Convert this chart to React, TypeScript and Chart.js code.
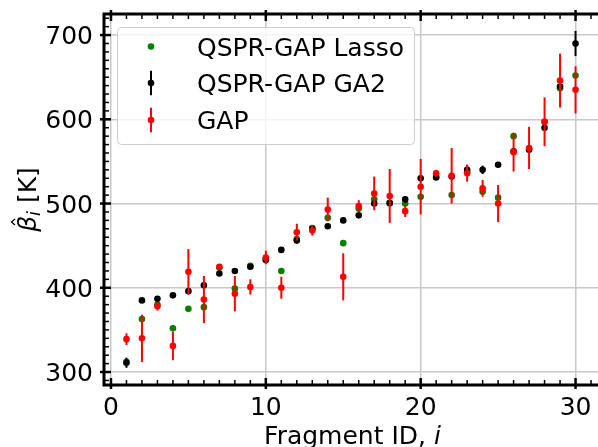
import React, { useEffect, useRef } from 'react';
import { Chart, registerables } from 'chart.js';

Chart.register(...registerables);

const fragmentIds = [1, 2, 3, 4, 5, 6, 7, 8, 9, 10, 11, 12, 13, 14, 15, 16, 17, 18, 19, 20, 21, 22, 23, 24, 25, 26, 27, 28, 29, 30];
const lassoValues = [312, 363, 380, 352, 375, 377, 424, 399, 426, 434, 420, 458, 471, 483, 453, 494, 505, 500, 500, 508, 532, 510, 537, 514, 507, 580, 565, 597, 637, 652];
const ga2Values = [311, 385, 387, 391, 396, 403, 417, 420, 425, 433, 445, 456, 470, 473, 480, 486, 500, 501, 505, 530, 531, 532, 540, 540, 546, 562, 564, 590, 639, 690];
const ga2Errors = [6, 2, 2, 2, 2, 2, 2, 2, 2, 2, 2, 2, 2, 2, 2, 2, 3, 2, 4, 2, 2, 2, 6, 5, 3, 2, 2, 2, 2, 15];
const gapValues = [339, 340, 378, 331, 419, 386, 425, 393, 401, 436, 400, 466, 468, 493, 413, 497, 512, 509, 491, 520, 536, 533, 536, 518, 500, 561, 566, 597, 646, 635];
const gapErrors = [7, 28, 5, 17, 27, 28, 2, 21, 9, 8, 13, 10, 6, 14, 28, 7, 20, 32, 7, 33, 4, 33, 10, 10, 22, 23, 25, 29, 32, 28];
const xTickValues = [0, 10, 20, 30];
const yTickValues = [300, 400, 500, 600, 700];
const seriesLabels = ['QSPR-GAP Lasso', 'QSPR-GAP GA2', 'GAP'];
const seriesColors = ['#008000', '#000000', '#ff0000'];

const X_MIN = -0.45;
const X_MAX = 31.58;
const Y_MIN = 284.6;
const Y_MAX = 725;
const X_MINOR_STEP = 1;
const Y_MINOR_STEP = 10;
const FONT = '"DejaVu Sans", sans-serif';
const CANVAS_W = 604;
const CANVAS_H = 447;

const errorBarPlugin = {
  id: 'errorBars',
  beforeDatasetDraw(chart: any, args: any) {
    const ds: any = chart.data.datasets[args.index];
    if (!ds.errors) return;
    const { ctx, scales } = chart;
    const xs = scales.x;
    const ys = scales.y;
    ctx.save();
    ctx.strokeStyle = ds.backgroundColor;
    ctx.lineWidth = 2;
    ds.data.forEach((p: any, i: number) => {
      const e = ds.errors[i];
      const px = xs.getPixelForValue(p.x);
      ctx.beginPath();
      ctx.moveTo(px, ys.getPixelForValue(p.y - e));
      ctx.lineTo(px, ys.getPixelForValue(p.y + e));
      ctx.stroke();
    });
    ctx.restore();
  },
};

const decorPlugin = {
  id: 'decor',
  afterDraw(chart: any) {
    const { ctx, chartArea, scales } = chart;
    const xs = scales.x;
    const ys = scales.y;
    const { left, right, top, bottom } = chartArea;

    // Legend
    ctx.save();
    ctx.beginPath();
    (ctx as any).roundRect(117.5, 27.5, 297, 117, 4);
    ctx.fillStyle = 'rgba(255,255,255,0.8)';
    ctx.fill();
    ctx.strokeStyle = '#cccccc';
    ctx.lineWidth = 1;
    ctx.stroke();
    const rows = [46.5, 83, 120];
    const mx = 151;
    rows.forEach((ry, k) => {
      ctx.fillStyle = seriesColors[k];
      ctx.strokeStyle = seriesColors[k];
      if (k > 0) {
        ctx.lineWidth = 2;
        ctx.beginPath();
        ctx.moveTo(mx, ry - 12.3);
        ctx.lineTo(mx, ry + 12.3);
        ctx.stroke();
      }
      ctx.beginPath();
      ctx.arc(mx, ry, 3.3, 0, Math.PI * 2);
      ctx.fill();
      ctx.fillStyle = '#000';
      ctx.font = `25px ${FONT}`;
      ctx.textAlign = 'left';
      ctx.textBaseline = 'alphabetic';
      ctx.fillText(seriesLabels[k], 197, ry + 9);
    });
    ctx.restore();

    // Spines (top, left, bottom; the right one lies beyond the page)
    ctx.save();
    ctx.strokeStyle = '#000';
    ctx.lineWidth = 3;
    ctx.lineCap = 'square';
    ctx.beginPath();
    ctx.moveTo(right + 4, top);
    ctx.lineTo(left, top);
    ctx.lineTo(left, bottom);
    ctx.lineTo(right + 4, bottom);
    ctx.stroke();
    ctx.lineCap = 'butt';

    // Minor ticks
    ctx.lineWidth = 1.5;
    for (let v = Math.ceil(X_MIN); v <= X_MAX; v += X_MINOR_STEP) {
      if (v % 10 === 0) continue;
      const px = xs.getPixelForValue(v);
      ctx.beginPath();
      ctx.moveTo(px, bottom);
      ctx.lineTo(px, bottom - 5);
      ctx.moveTo(px, top);
      ctx.lineTo(px, top + 5);
      ctx.stroke();
    }
    for (let v = Math.ceil(Y_MIN / Y_MINOR_STEP) * Y_MINOR_STEP; v <= Y_MAX; v += Y_MINOR_STEP) {
      if (v % 100 === 0) continue;
      const py = ys.getPixelForValue(v);
      ctx.beginPath();
      ctx.moveTo(left, py);
      ctx.lineTo(left + 5, py);
      ctx.stroke();
    }
    // Major ticks
    ctx.lineWidth = 2.5;
    xTickValues.forEach((v) => {
      const px = xs.getPixelForValue(v);
      ctx.beginPath();
      ctx.moveTo(px, bottom + 4);
      ctx.lineTo(px, bottom - 7);
      ctx.moveTo(px, top - 4);
      ctx.lineTo(px, top + 7);
      ctx.stroke();
    });
    yTickValues.forEach((v) => {
      const py = ys.getPixelForValue(v);
      ctx.beginPath();
      ctx.moveTo(left - 4, py);
      ctx.lineTo(left + 7, py);
      ctx.stroke();
    });

    // Tick labels
    ctx.fillStyle = '#000';
    ctx.font = `25px ${FONT}`;
    ctx.textBaseline = 'alphabetic';
    ctx.textAlign = 'center';
    xTickValues.forEach((v) => {
      ctx.fillText(String(v), xs.getPixelForValue(v), 415);
    });
    ctx.textAlign = 'right';
    yTickValues.forEach((v) => {
      ctx.fillText(String(v), 93, ys.getPixelForValue(v) + 9);
    });

    // X title
    const cx = 352.5;
    ctx.font = `25px ${FONT}`;
    const t1 = 'Fragment ID, ';
    const w1 = ctx.measureText(t1).width;
    ctx.font = `italic 25px ${FONT}`;
    const w2 = ctx.measureText('i').width;
    const sx = cx - (w1 + w2) / 2;
    ctx.textAlign = 'left';
    ctx.font = `25px ${FONT}`;
    ctx.fillText(t1, sx, 444);
    ctx.font = `italic 25px ${FONT}`;
    ctx.fillText('i', sx + w1, 444);

    // Y title
    ctx.save();
    ctx.translate(36, (top + bottom) / 2);
    ctx.rotate(-Math.PI / 2);
    ctx.font = `italic 25px ${FONT}`;
    const wb = ctx.measureText('β').width;
    ctx.font = `italic 17.5px ${FONT}`;
    const ws = ctx.measureText('i').width;
    ctx.font = `25px ${FONT}`;
    const wr = ctx.measureText(' [K]').width;
    const st = -(wb + ws + wr) / 2;
    ctx.font = `italic 25px ${FONT}`;
    ctx.fillText('β', st, 0);
    const hc = st + wb * 0.62;
    ctx.lineWidth = 1.3;
    ctx.beginPath();
    ctx.moveTo(hc - 3, -21);
    ctx.lineTo(hc, -24.5);
    ctx.lineTo(hc + 3, -21);
    ctx.stroke();
    ctx.font = `italic 17.5px ${FONT}`;
    ctx.fillText('i', st + wb, 4);
    ctx.font = `25px ${FONT}`;
    ctx.fillText(' [K]', st + wb + ws, 0);
    ctx.restore();

    ctx.restore();
  },
};

export default function App() {
  const canvasRef = useRef<HTMLCanvasElement | null>(null);

  useEffect(() => {
    if (!canvasRef.current) return;
    const mk = (vals: number[]) => fragmentIds.map((x, i) => ({ x, y: vals[i] }));
    const chart = new Chart(canvasRef.current, {
      type: 'scatter',
      data: {
        datasets: [
          {
            label: seriesLabels[0],
            data: mk(lassoValues),
            backgroundColor: seriesColors[0],
            borderWidth: 0,
            pointRadius: 3.3,
            order: 3,
          },
          {
            label: seriesLabels[1],
            data: mk(ga2Values),
            errors: ga2Errors,
            backgroundColor: seriesColors[1],
            borderWidth: 0,
            pointRadius: 3.3,
            order: 2,
          } as any,
          {
            label: seriesLabels[2],
            data: mk(gapValues),
            errors: gapErrors,
            backgroundColor: seriesColors[2],
            borderWidth: 0,
            pointRadius: 3.3,
            order: 1,
          } as any,
        ],
      },
      options: {
        responsive: false,
        animation: false,
        devicePixelRatio: 1,
        layout: { padding: { top: 14, right: 0, left: 0, bottom: 0 } },
        plugins: { legend: { display: false }, tooltip: { enabled: false } },
        events: [],
        scales: {
          x: {
            type: 'linear',
            min: X_MIN,
            max: X_MAX,
            afterBuildTicks: (s: any) => {
              s.ticks = xTickValues.map((v) => ({ value: v }));
            },
            afterFit: (s: any) => {
              s.height = 62;
            },
            ticks: { display: false },
            border: { display: false },
            grid: { color: '#c8c8c8', lineWidth: 1.5, drawTicks: false },
          },
          y: {
            type: 'linear',
            min: Y_MIN,
            max: Y_MAX,
            afterBuildTicks: (s: any) => {
              s.ticks = yTickValues.map((v) => ({ value: v }));
            },
            afterFit: (s: any) => {
              s.width = 104;
            },
            ticks: { display: false },
            border: { display: false },
            grid: { color: '#c8c8c8', lineWidth: 1.5, drawTicks: false },
          },
        },
      },
      plugins: [errorBarPlugin, decorPlugin],
    });
    return () => chart.destroy();
  }, []);

  return (
    <div
      style={{
        position: 'fixed',
        left: 0,
        top: 0,
        width: 598,
        height: CANVAS_H,
        overflow: 'hidden',
        background: '#fff',
      }}
    >
      <div style={{ width: CANVAS_W, height: CANVAS_H, position: 'relative' }}>
        <canvas
          ref={canvasRef}
          width={CANVAS_W}
          height={CANVAS_H}
          style={{ display: 'block', width: CANVAS_W, height: CANVAS_H }}
        />
      </div>
    </div>
  );
}
